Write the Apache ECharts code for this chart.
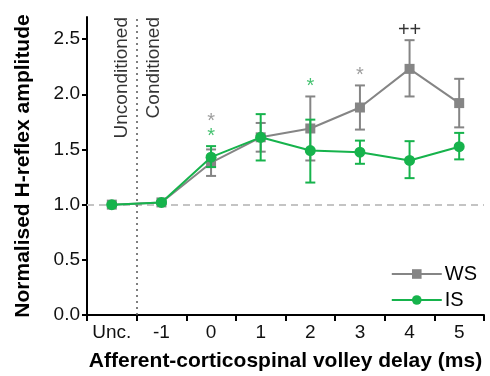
<!DOCTYPE html>
<html>
<head>
<meta charset="utf-8">
<script src="https://cdn.jsdelivr.net/npm/echarts@6/dist/echarts.min.js"></script>
<style>
    html, body { margin: 0; padding: 0; background: #ffffff; }
    #chart { width: 490px; height: 376px; }
</style>
</head>
<body>
<div id="chart"></div>
<script>
// H-reflex 数据
const categories = ['Unc.', '-1', '0', '1', '2', '3', '4', '5'];
const wsMean = [1.0, 1.02, 1.38, 1.61, 1.69, 1.88, 2.23, 1.92];
const wsLow = [1.0, 1.01, 1.26, 1.48, 1.40, 1.68, 1.98, 1.70];
const wsHigh = [1.0, 1.03, 1.50, 1.74, 1.98, 2.08, 2.49, 2.14];
const isMean = [1.0, 1.02, 1.43, 1.61, 1.49, 1.475, 1.40, 1.525];
const isLow = [1.0, 1.01, 1.34, 1.40, 1.20, 1.37, 1.24, 1.41];
const isHigh = [1.0, 1.03, 1.53, 1.82, 1.77, 1.58, 1.575, 1.65];
const yTicks = [0, 0.5, 1.0, 1.5, 2.0, 2.5];

// 显著性标记
const sigCats = ['0', '0', '2', '3', '4'];
const sigText = ['*', '*', '*', '*', '++'];
const sigGroup = ['IS', 'WS', 'IS', 'WS', 'both'];

// 非条件 / 条件 分界
const phaseText = ['Unconditioned', 'Conditioned'];
const phaseSplit = 0.5;

const GREY = '#858585';
const GREEN = '#16b34c';
const FONT = '"Liberation Sans", Arial, sans-serif';
const groupColor = { WS: GREY, IS: GREEN, both: '#000000' };

// X轴刻度在类目之间
const xTickVals = categories.map((c, i) => i - 0.5).concat([categories.length - 0.5]);

function errorRender(color) {
    return function(params, api) {
        const x = api.value(0);
        const top = api.coord([x, api.value(2)]);
        const bot = api.coord([x, api.value(1)]);
        const hw = 5;
        const style = { stroke: color, lineWidth: 2 };
        return {
            type: 'group',
            children: [
                { type: 'line', shape: { x1: top[0], y1: top[1], x2: bot[0], y2: bot[1] }, style },
                { type: 'line', shape: { x1: top[0] - hw, y1: top[1], x2: top[0] + hw, y2: top[1] }, style },
                { type: 'line', shape: { x1: bot[0] - hw, y1: bot[1], x2: bot[0] + hw, y2: bot[1] }, style }
            ]
        };
    };
}

const wsErr = categories.map((c, i) => [i, wsLow[i], wsHigh[i]]);
const isErr = categories.map((c, i) => [i, isLow[i], isHigh[i]]);

// 标记位置：两组误差上限之上叠放
const stackCount = {};
const sigData = sigCats.map((c, i) => {
    const idx = categories.indexOf(c);
    const base = Math.max(wsHigh[idx], isHigh[idx]) + 0.09;
    const n = stackCount[c] || 0;
    stackCount[c] = n + 1;
    return {
        value: [idx, base + n * 0.13],
        label: { formatter: sigText[i], color: groupColor[sigGroup[i]] }
    };
});

const eChart = echarts.init(document.getElementById('chart'));
const option = {
    animation: false,
    textStyle: { fontFamily: FONT },
    grid: { left: 87, right: 6, top: 17, bottom: 61, outerBoundsMode: 'none', containLabel: false },
    legend: {
        orient: 'vertical',
        right: 8,
        top: 259,
        itemWidth: 50,
        itemHeight: 12,
        itemGap: 6,
        data: ['WS', 'IS'],
        textStyle: { fontSize: 20, color: '#000', fontFamily: FONT, padding: [0, 0, 0, -2] }
    },
    xAxis: [
        {
            type: 'category',
            position: 'bottom',
            data: categories,
            boundaryGap: true,
            name: 'Afferent-corticospinal volley delay (ms)',
            nameLocation: 'middle',
            nameGap: 36,
            nameTextStyle: { fontSize: 21, fontWeight: 'bold', color: '#000', fontFamily: FONT },
            axisLine: { onZero: false, lineStyle: { color: '#000', width: 2 } },
            axisTick: { show: false },
            axisLabel: { interval: 0, fontSize: 19, color: '#111', margin: 8, fontFamily: FONT },
            splitLine: { show: false }
        },
        {
            // 数值轴，只画类目间刻度及分界线
            type: 'value',
            position: 'bottom',
            min: -0.5,
            max: categories.length - 0.5,
            axisLine: { show: false, onZero: false },
            axisLabel: { show: false },
            splitLine: { show: false },
            axisTick: {
                show: true,
                length: 6,
                customValues: xTickVals,
                lineStyle: { color: '#000', width: 2 }
            }
        }
    ],
    yAxis: {
        type: 'value',
        min: 0,
        max: 2.7,
        interval: 0.5,
        name: 'Normalised H-reflex amplitude',
        nameLocation: 'middle',
        nameGap: 53,
        nameTextStyle: { fontSize: 21, fontWeight: 'bold', color: '#000', fontFamily: FONT },
        axisLine: { show: true, onZero: false, lineStyle: { color: '#000', width: 2 } },
        axisTick: { show: true, length: 5, customValues: yTicks, lineStyle: { color: '#000', width: 2 } },
        axisLabel: {
            fontSize: 19,
            color: '#111',
            margin: 7,
            fontFamily: FONT,
            customValues: yTicks,
            formatter: v => v.toFixed(1)
        },
        splitLine: { show: false }
    },
    series: [
        {
            name: 'WS-err',
            type: 'custom',
            renderItem: errorRender(GREY),
            data: wsErr,
            z: 2
        },
        {
            name: 'WS',
            type: 'line',
            data: wsMean,
            symbol: 'rect',
            symbolSize: 10,
            color: GREY,
            lineStyle: { color: GREY, width: 2 },
            itemStyle: { color: GREY },
            z: 3,
            markLine: {
                silent: true,
                symbol: 'none',
                label: { show: false },
                lineStyle: { color: '#c4c4c4', width: 2, type: [7, 5] },
                data: [{ yAxis: 1.0 }],
                z: 1
            }
        },
        {
            name: 'IS-err',
            type: 'custom',
            renderItem: errorRender(GREEN),
            data: isErr,
            z: 4
        },
        {
            name: 'IS',
            type: 'line',
            data: isMean,
            symbol: 'circle',
            symbolSize: 11,
            color: GREEN,
            lineStyle: { color: GREEN, width: 2 },
            itemStyle: { color: GREEN },
            z: 5
        },
        {
            name: 'sig',
            type: 'scatter',
            symbolSize: 0,
            silent: true,
            data: sigData,
            label: {
                show: true,
                position: 'inside',
                fontSize: 20,
                fontFamily: FONT,
                verticalAlign: 'middle'
            },
            z: 6
        },
        {
            name: 'phase',
            type: 'scatter',
            xAxisIndex: 1,
            symbolSize: 0,
            silent: true,
            data: [
                { value: [phaseSplit, 2.7], label: { formatter: phaseText[0], offset: [0, -15] } },
                { value: [phaseSplit, 2.7], label: { formatter: phaseText[1], offset: [0, 17] } }
            ],
            label: {
                show: true,
                position: 'inside',
                rotate: 90,
                align: 'right',
                verticalAlign: 'middle',
                fontSize: 19,
                color: '#000',
                fontFamily: FONT
            },
            markLine: {
                silent: true,
                symbol: 'none',
                label: { show: false },
                lineStyle: { color: '#555', width: 1.5, type: [2, 4] },
                data: [{ xAxis: phaseSplit }]
            },
            z: 6
        }
    ]
};
eChart.setOption(option);
</script>
</body>
</html>
